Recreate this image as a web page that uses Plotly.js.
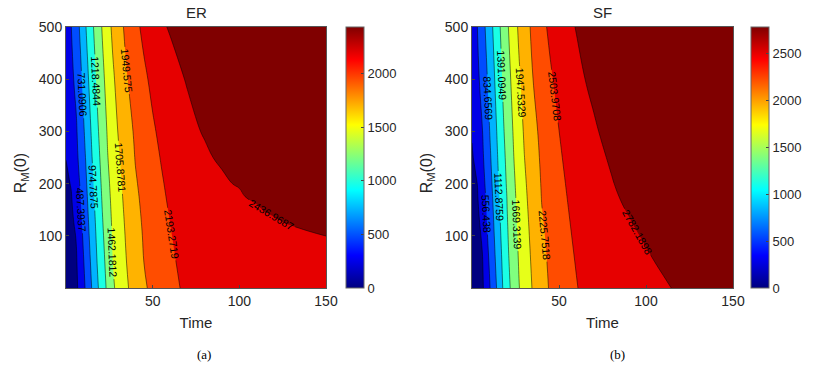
<!DOCTYPE html>
<html>
<head>
<meta charset="utf-8">
<script src="https://cdn.plot.ly/plotly-3.0.1.min.js"></script>
<style>html,body{margin:0;padding:0;background:#fff;}#chart{width:813px;height:370px;}</style>
</head>
<body>
<div id="chart"></div>
<script>
// Grid of the two contour maps (Time columns, R_M(0) rows)
const timeGrid = [0,3,6,9,12,15,18,21,24,27,30,35,40,45,50,55,60,70,80,90,100,110,120,130,140,150];
const rmGrid = [0,50,100,125,150,175,200,250,300,400,500];

// ER: one row per rmGrid value
const zER = [
  [0,103,206,362.4,551.5,743.9,936.3,1104.8,1266.2,1425.1,1530.6,1679.2,1802.9,1921.2,1996.8,2059.0,2121.1,2245.6,2295,2330,2355,2372,2382,2388,2392,2395],
  [50,138.1,226.1,402.6,597.4,789.5,980.8,1144.0,1304.5,1462.5,1555.1,1708.6,1830.9,1951.6,2017.0,2082.4,2147.8,2278.5,2325,2360,2382,2396,2403,2407,2410,2412.2],
  [99,173.9,256.7,451.1,643.1,835.0,1019.6,1183.5,1342.4,1485.3,1581.5,1734.3,1860.9,1970.3,2039.3,2108.3,2177.3,2315.2,2350,2375,2393,2407,2419,2429.2,2433.2,2437.2],
  [124,193.1,292.4,475.2,665.6,857.4,1038.9,1203.2,1361.1,1497.2,1595.3,1747.7,1876.6,1980.4,2051.3,2122.3,2193.4,2330,2370,2395,2412,2425,2434.1,2439.0,2443.8,2448.6],
  [148,211.8,327.9,497.6,688.5,880.5,1058.8,1223.2,1380.1,1509.9,1610.1,1761.8,1893.1,1991.2,2064.2,2137.2,2210.2,2345,2385,2408,2423,2435.2,2440.4,2445.6,2450.8,2456],
  [173,230.3,360.9,520.4,710.8,903.0,1078.2,1242.0,1398.5,1522.9,1625.1,1776.3,1910.0,2002.5,2077.7,2152.9,2228.3,2360,2405,2424,2435.7,2439.5,2443.4,2447.2,2451,2455],
  [197,257.2,392.1,543.2,733.7,926.1,1098.3,1261.2,1417.4,1536.7,1641.1,1791.5,1927.8,2014.7,2092.2,2169.7,2247.3,2375,2420,2435.9,2437.7,2439.5,2441.3,2443.1,2444.9,2446.7],
  [249,345.7,442.3,588.7,779.2,971.6,1138.2,1298.9,1454.4,1565.9,1675.0,1823.5,1958.7,2041.3,2123.9,2206.5,2280,2400,2436.1,2437.9,2439.7,2441.5,2443.3,2445.1,2446.9,2448.7],
  [295,381.4,467.8,633.9,824.7,1011.5,1178.4,1336.2,1483.5,1597.8,1710.6,1858.1,1983.2,2071.7,2160.1,2248.4,2330,2435.6,2437.4,2439.2,2441,2442.8,2444.6,2446.4,2448.2,2450],
  [385,443.6,535.1,723.6,915.8,1091.6,1256.4,1410.0,1545.4,1671.5,1776.0,1936.7,2044.3,2147.2,2250.1,2345,2435.3,2437.3,2439.3,2441.3,2443.3,2445.3,2447.3,2449.3,2451.3,2453.3],
  [472,484.2,624.9,814.5,1003.1,1173.1,1330.2,1480.9,1621.6,1748.3,1854.2,2006.2,2129.3,2252.4,2350,2436.4,2437.3,2439.2,2441.1,2443,2445,2447,2449,2451,2453,2455]
];

// SF: one row per rmGrid value
const zSF = [
  [0,121.0,241.9,450.0,677.7,900.2,1139.4,1338.1,1504.4,1659.0,1779.0,1969.1,2123.7,2252.7,2331.7,2410.8,2489.8,2647.6,2680,2710,2738.7,2768.7,2798.7,2828.7,2858.7,2888.7],
  [50,157.0,264.0,504.2,726.3,951.5,1177.2,1375.9,1535.4,1686.6,1807.6,1995.9,2153.9,2270.9,2353.6,2436.2,2518.9,2581,2643,2705,2767.2,2797.2,2827.2,2857.2,2887.2,2917.2],
  [100,195.5,311.9,563.4,774.2,1000.1,1214.9,1409.0,1567.1,1713.3,1837.9,2023.8,2185.6,2290.9,2377.5,2464.1,2550.8,2621.6,2692.5,2763.3,2793.3,2823.3,2853.3,2883.3,2913.3,2943.3],
  [125,215.1,350.8,587.9,797.6,1023.0,1233.5,1424.0,1582.9,1727.0,1853.5,2038.2,2201.8,2301.6,2390.3,2479.1,2568.0,2657.1,2746.2,2776.2,2806.2,2836.2,2866.2,2896.2,2926.2,2956.2],
  [150,235.5,391.0,612.2,821.3,1046.0,1252.7,1439.6,1599.5,1741.6,1870.0,2053.2,2218.8,2312.9,2403.9,2494.8,2586.8,2672.5,2758.2,2788.2,2818.2,2848.2,2878.2,2908.2,2938.2,2968.2],
  [175,256.5,429.3,635.5,845.1,1067.7,1258.0,1454.9,1615.7,1756.2,1886.7,2068.2,2231.4,2324.8,2418.1,2511.5,2563.0,2665.9,2768.7,2798.7,2828.7,2858.7,2888.7,2918.7,2948.7,2978.7],
  [200,278.3,463.7,660.2,869.8,1089.5,1290.4,1470.9,1632.6,1771.8,1904.2,2083.9,2241.5,2337.3,2433.1,2528.9,2601.6,2747.1,2777.1,2807.1,2837.1,2867.1,2897.1,2927.1,2957.1,2987.1],
  [251,364.2,515.9,707.5,916.7,1129.5,1328.2,1502.9,1666.6,1803.8,1940.7,2116.2,2263.2,2364.4,2465.5,2566.8,2631.4,2760.6,2790.6,2820.6,2850.6,2880.6,2910.6,2940.6,2970.6,3000.6],
  [300,426.1,552.2,754.2,961.3,1167.2,1365.9,1535.7,1696.6,1838.1,1971.8,2150.1,2287.5,2394.7,2501.8,2611.8,2665.8,2773.8,2803.8,2833.8,2863.8,2893.8,2923.8,2953.8,2983.8,3013.8],
  [400,499.8,643.8,845.3,1044.0,1242.7,1434.1,1603.7,1762.4,1914.1,2035.5,2223.4,2345.9,2467.5,2589.2,2752.2,2767.2,2797.2,2827.2,2857.2,2887.2,2917.2,2947.2,2977.2,3007.2,3037.2],
  [500,551.3,735.2,929.5,1119.5,1318.2,1501.2,1674.8,1838.4,1987.2,2106.5,2282.0,2422.5,2563.0,2754.6,2769.6,2784.6,2814.6,2844.6,2874.6,2904.6,2934.6,2964.6,2994.6,3024.6,3054.6]
];

// contour level spacing (10 levels each) and colour-bar ranges
const erStep = 243.696874;
const sfStep = 278.21898;
const erMax = 2436.96875;
const sfMax = 2782.1898;
const erBarTicks = [0,500,1000,1500,2000];
const sfBarTicks = [0,500,1000,1500,2000,2500];
const timeTicks = [50,100,150];
const rmTicks = [100,200,300,400,500];
const panelTitles = ['ER','SF'];
const captions = ['(a)','(b)'];

const jet = [[0,'rgb(0,0,128)'],[0.125,'rgb(0,0,255)'],[0.375,'rgb(0,255,255)'],[0.625,'rgb(255,255,0)'],[0.875,'rgb(255,0,0)'],[1,'rgb(128,0,0)']];

const W = 813, H = 370;
const FONT = 'Liberation Sans, Arial, Helvetica, sans-serif';
const TXT = '#262626';

function contourTrace(z, step, xa, ya){
  return {
    type:'contour', x: timeGrid, y: rmGrid, z: z, xaxis: xa, yaxis: ya,
    autocontour:false,
    contours:{start:step, end:step*10, size:step, coloring:'fill', showlabels:true,
      labelfont:{family:FONT, size:10.5, color:'#000'}, labelformat:'.4~f'},
    line:{color:'#000', width:0.5, smoothing:1.2},
    colorscale: jet, showscale:false, hoverinfo:'skip'
  };
}
function barTrace(max, ticks, xa, ya, xLeft){
  return {
    type:'scatter', mode:'markers', x:[-100], y:[-100], xaxis:xa, yaxis:ya,
    hoverinfo:'skip', showlegend:false,
    marker:{color:[0], cmin:0, cmax:max, colorscale:jet, showscale:true, size:1,
      colorbar:{x:xLeft/W, xanchor:'left', xpad:0, y:(H-288)/H, yanchor:'bottom', ypad:0,
        len:261/H, lenmode:'fraction', thickness:18, thicknessmode:'pixels',
        tickvals:ticks, ticks:'inside', ticklen:3, tickcolor:'#444',
        tickfont:{family:FONT, size:13, color:TXT}, outlinewidth:1, outlinecolor:'#666'}}
  };
}

const data = [
  contourTrace(zER, erStep, 'x', 'y'),
  contourTrace(zSF, sfStep, 'x2', 'y2'),
  barTrace(erMax, erBarTicks, 'x', 'y', 346),
  barTrace(sfMax, sfBarTicks, 'x2', 'y2', 751)
];

function xAxis(d0, d1, anchor){
  return {domain:[d0/W, d1/W], anchor:anchor, range:[0,150], tickvals:timeTicks,
    ticks:'inside', ticklen:3, tickcolor:'#444', showline:true, mirror:true, linecolor:'#555', linewidth:1,
    showgrid:false, zeroline:false, tickfont:{family:FONT, size:14, color:TXT},
    title:{text:'Time', font:{family:FONT, size:15, color:TXT}, standoff:9}};
}
// trailing spaces push the rotated title a little below the axis centre, as in the picture
function yAxis(anchor){
  return {domain:[(H-288)/H, (H-27)/H], anchor:anchor, range:[0,500], tickvals:rmTicks,
    ticks:'inside', ticklen:3, tickcolor:'#444', showline:true, mirror:true, linecolor:'#555', linewidth:1,
    showgrid:false, zeroline:false, tickfont:{family:FONT, size:14, color:TXT},
    title:{text:'R<sub>M</sub>(0)&nbsp;&nbsp;&nbsp;&nbsp;&nbsp;&nbsp;&nbsp;', font:{family:FONT, size:16, color:TXT}, standoff:8}};
}

const layout = {
  width:W, height:H, margin:{l:0,r:0,t:0,b:0}, paper_bgcolor:'#fff', plot_bgcolor:'#fff',
  showlegend:false,
  xaxis: xAxis(66, 326, 'y'), yaxis: yAxis('x'),
  xaxis2: xAxis(472, 733, 'y2'), yaxis2: yAxis('x2'),
  annotations:[
    {text:panelTitles[0], x:196/W, y:1-12/H, xref:'paper', yref:'paper', showarrow:false, xanchor:'center', yanchor:'middle', font:{family:FONT, size:15, color:TXT}},
    {text:panelTitles[1], x:602.5/W, y:1-12/H, xref:'paper', yref:'paper', showarrow:false, xanchor:'center', yanchor:'middle', font:{family:FONT, size:15, color:TXT}},
    {text:captions[0], x:204/W, y:1-354/H, xref:'paper', yref:'paper', showarrow:false, xanchor:'center', yanchor:'middle', font:{family:'Liberation Serif, Times New Roman, serif', size:13, color:'#000'}},
    {text:captions[1], x:617/W, y:1-354/H, xref:'paper', yref:'paper', showarrow:false, xanchor:'center', yanchor:'middle', font:{family:'Liberation Serif, Times New Roman, serif', size:13, color:'#000'}}
  ]
};

Plotly.newPlot('chart', data, layout, {staticPlot:true, displayModeBar:false});
</script>
</body>
</html>
